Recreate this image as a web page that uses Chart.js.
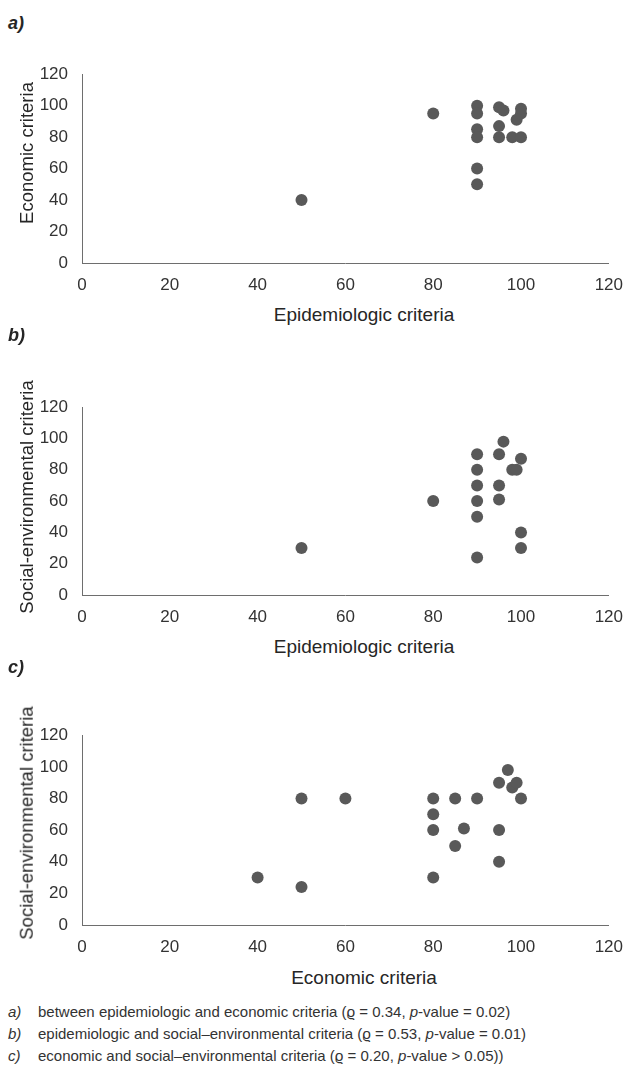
<!DOCTYPE html>
<html>
<head>
<meta charset="utf-8">
<script src="https://cdn.jsdelivr.net/npm/chart.js@4/dist/chart.umd.min.js"></script>
<style>
  body { margin: 0; background: #fff; width: 635px; height: 1068px; position: relative; overflow: hidden; font-family: "Liberation Sans", Arial, sans-serif; color: #262626; }
  canvas { position: absolute; left: 0; }
  .panel { position: absolute; left: 8px; font-size: 18px; font-weight: bold; font-style: italic; line-height: 1; transform: translateY(-50%); }
  .xt { position: absolute; left: 364px; font-size: 19px; line-height: 1; white-space: nowrap; transform: translate(-50%, -50%); }
  .yt { position: absolute; left: 27px; font-size: 18.5px; line-height: 1; white-space: nowrap; transform: translate(-50%, -50%) rotate(-90deg); }
  .note { position: absolute; left: 0; width: 635px; height: 15px; font-size: 15px; line-height: 15px; white-space: nowrap; transform: translateY(-50%); color: #333; }
  .note i.k { position: absolute; left: 8px; top: 0; }
  .note span.t { position: absolute; left: 38px; top: 0; }
</style>
</head>
<body>

<div class="panel" style="top:23px">a)</div>
<canvas id="chartA" width="635" height="253" style="top:50px"></canvas>
<div class="yt" style="top:153px">Economic criteria</div>
<div class="xt" style="top:314px">Epidemiologic criteria</div>

<div class="panel" style="top:335px">b)</div>
<canvas id="chartB" width="635" height="252" style="top:383px"></canvas>
<div class="yt" style="top:497px">Social-environmental criteria</div>
<div class="xt" style="top:646px">Epidemiologic criteria</div>

<div class="panel" style="top:667px">c)</div>
<canvas id="chartC" width="635" height="254" style="top:711px"></canvas>
<div class="yt" style="top:823px">Social-environmental criteria</div>
<div class="xt" style="top:977px">Economic criteria</div>

<div class="note" style="top:1011px"><i class="k">a)</i><span class="t">between epidemiologic and economic criteria (ϱ = 0.34, <i>p</i>-value = 0.02)</span></div>
<div class="note" style="top:1033px"><i class="k">b)</i><span class="t">epidemiologic and social–environmental criteria (ϱ = 0.53, <i>p</i>-value = 0.01)</span></div>
<div class="note" style="top:1055px"><i class="k">c)</i><span class="t">economic and social–environmental criteria (ϱ = 0.20, <i>p</i>-value &gt; 0.05))</span></div>

<script>
// axis range shared by every panel
var axisMin = 0;
var axisMax = 120;
var axisStep = 20;

// a) epidemiologic vs economic
var epiA = [50, 80, 90, 90, 90, 90, 90, 90, 95, 96, 95, 95, 98, 100, 99, 100, 100];
var ecoA = [40, 95, 100, 95, 85, 80, 60, 50, 99, 97, 87, 80, 80, 80, 91, 95, 98];

// b) epidemiologic vs social-environmental
var epiB = [50, 80, 90, 90, 90, 90, 90, 90, 95, 95, 95, 96, 100, 98, 99, 100, 100];
var socB = [30, 60, 90, 80, 70, 60, 50, 24, 90, 70, 61, 98, 87, 80, 80, 40, 30];

// c) economic vs social-environmental
var ecoC = [40, 50, 50, 60, 80, 80, 80, 80, 85, 85, 87, 90, 95, 95, 95, 97, 98, 99, 100];
var socC = [30, 80, 24, 80, 80, 70, 60, 30, 80, 50, 61, 80, 90, 60, 40, 98, 87, 90, 80];

var dotColor = "#595959";
var axisColor = "#6e6e6e";
var tickColor = "#333333";
var tickFont = { family: "'Liberation Sans', Arial, sans-serif", size: 17 };

function toPoints(xs, ys){
	var pts = [];
	for(var i in xs){
		pts.push({ x: xs[i], y: ys[i] });
	}
	return pts;
}

function makeScatter(id, xs, ys){
	var ctx = document.getElementById(id);
	return new Chart(ctx, {
		type: 'scatter',
		data: {
			datasets: [{
				data: toPoints(xs, ys),
				backgroundColor: dotColor,
				borderWidth: 0,
				pointRadius: 6,
				pointHoverRadius: 6
			}]
		},
		options: {
			responsive: false,
			animation: false,
			events: [],
			layout: { padding: { left: 0, right: 18, top: 15, bottom: 0 } },
			plugins: { legend: { display: false }, tooltip: { enabled: false } },
			scales: {
				x: {
					type: 'linear',
					min: axisMin, max: axisMax,
					grid: { display: false, drawTicks: false },
					border: { display: true, color: axisColor, width: 1 },
					ticks: { stepSize: axisStep, padding: 12, color: tickColor, font: tickFont, maxRotation: 0 },
					afterFit: function(scale){ scale.height = 40; }
				},
				y: {
					type: 'linear',
					min: axisMin, max: axisMax,
					grid: { display: false, drawTicks: false },
					border: { display: true, color: axisColor, width: 1 },
					ticks: { stepSize: axisStep, padding: 14, color: tickColor, font: tickFont },
					afterFit: function(scale){ scale.width = 82; }
				}
			}
		}
	});
}

makeScatter("chartA", epiA, ecoA);
makeScatter("chartB", epiB, socB);
makeScatter("chartC", ecoC, socC);
</script>
</body>
</html>
